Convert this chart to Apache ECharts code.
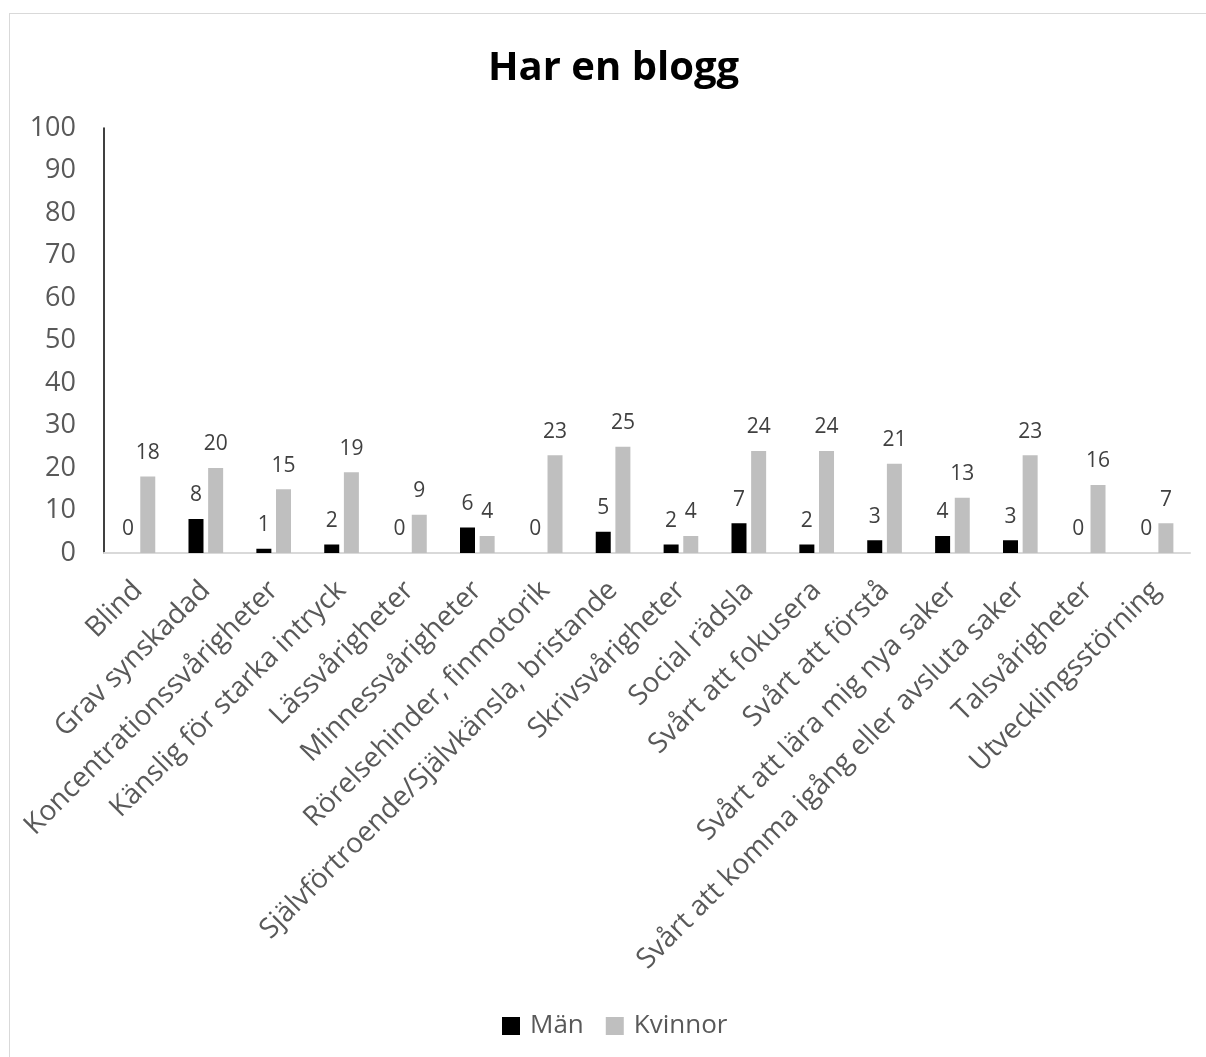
<!DOCTYPE html>
<html>
<head>
<meta charset="utf-8">
<script src="https://cdn.jsdelivr.net/npm/echarts@6/dist/echarts.min.js"></script>
<style>
html,body{margin:0;padding:0;background:#fff;}
#frame{position:absolute;left:9px;top:13px;width:1200px;height:1060px;border:1px solid #d9d9d9;box-sizing:border-box;}
#chart{position:absolute;left:0;top:0;width:1206px;height:1057px;}
</style>
</head>
<body>
<div id="frame"></div>
<div id="chart"></div>
<script>
const categories = ["Blind","Grav synskadad","Koncentrationssvårigheter","Känslig för starka intryck","Lässvårigheter","Minnessvårigheter","Rörelsehinder, finmotorik","Självförtroende/Självkänsla, bristande","Skrivsvårigheter","Social rädsla","Svårt att fokusera","Svårt att förstå","Svårt att lära mig nya saker","Svårt att komma igång eller avsluta saker","Talsvårigheter","Utvecklingsstörning"];
const man = [0,8,1,2,0,6,0,5,2,7,2,3,4,3,0,0];
const kvinnor = [18,20,15,19,9,4,23,25,4,24,24,21,13,23,16,7];
const seriesNames = ["Män","Kvinnor"];
const yTicks = {min:0,max:100,interval:10};

const font = "'Open Sans', sans-serif";
const chart = echarts.init(document.getElementById('chart'));
const labelStyle = {show:true,position:'top',distance:13,color:'#404040',fontSize:21,fontFamily:font};
chart.setOption({
  animation:false,
  title:{text:'Har en blogg',left:483,top:44,textStyle:{fontFamily:font,fontSize:40,fontWeight:'bold',color:'#000'}},
  legend:{bottom:13,left:497,itemWidth:18,itemHeight:18,itemGap:22,icon:'rect',
    textStyle:{fontFamily:font,fontSize:26,color:'#595959',padding:[0,0,0,5]},data:seriesNames},
  grid:{left:104,right:16,top:128,bottom:504,containLabel:false},
  xAxis:{type:'category',data:categories,
    axisLine:{show:true,lineStyle:{color:'#d9d9d9',width:2}},
    axisTick:{show:false},
    axisLabel:{interval:0,rotate:45,margin:33,fontFamily:font,fontSize:28,color:'#595959'}},
  yAxis:{type:'value',min:yTicks.min,max:yTicks.max,interval:yTicks.interval,
    axisLine:{show:true,lineStyle:{color:'#000',width:1.5}},
    axisTick:{show:false},splitLine:{show:false},
    axisLabel:{margin:28,fontFamily:font,fontSize:27,color:'#595959'}},
  series:[
    {name:seriesNames[0],type:'bar',data:man,barWidth:15,barGap:'31%',itemStyle:{color:'#000'},label:labelStyle},
    {name:seriesNames[1],type:'bar',data:kvinnor,barWidth:15,itemStyle:{color:'#bfbfbf'},label:labelStyle}
  ]
});
</script>
</body>
</html>
